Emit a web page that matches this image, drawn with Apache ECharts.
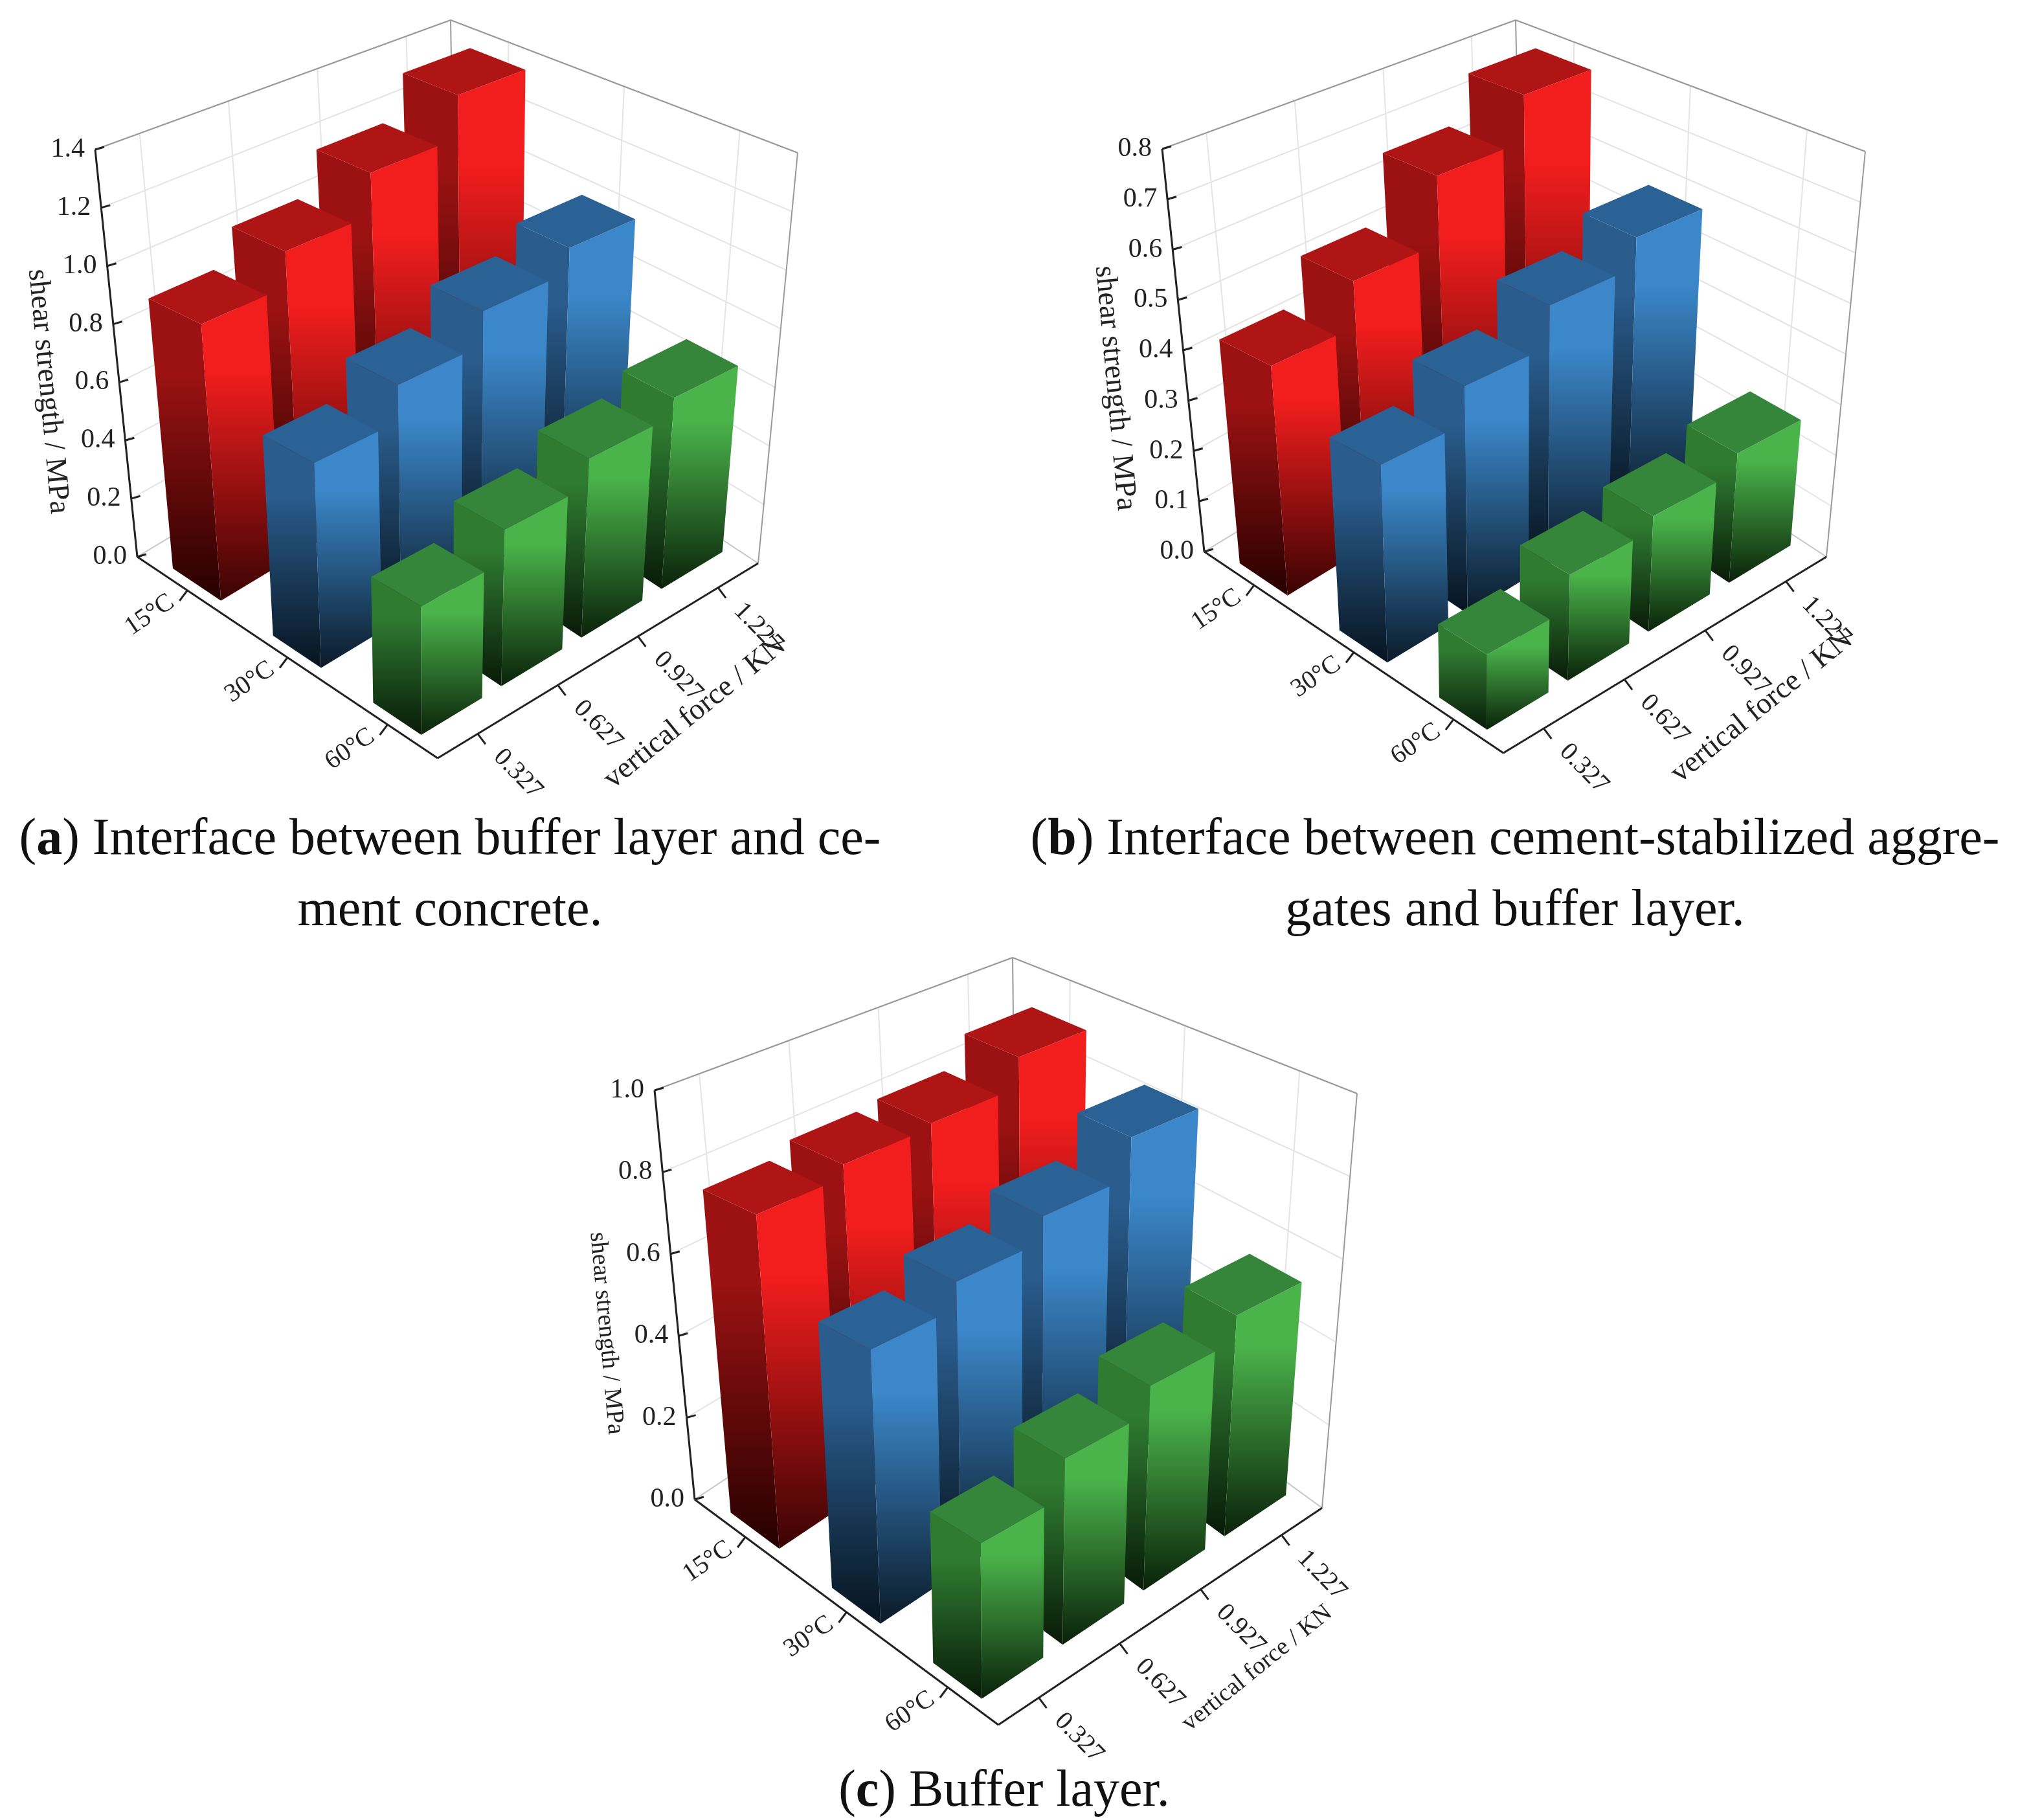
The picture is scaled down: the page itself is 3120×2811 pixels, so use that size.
<!DOCTYPE html>
<html>
<head>
<meta charset="utf-8">
<style>html,body{margin:0;padding:0;background:#fff}#chart{width:3120px;height:2811px}</style>
<script src="https://cdn.jsdelivr.net/npm/echarts@6/dist/echarts.min.js"></script>
</head>
<body>
<div id="chart"></div>
<script>
// categories
const tempLabels = ['15°C', '30°C', '60°C']
const forceLabels = ['0.327', '0.627', '0.927', '1.227']

// shear strength (MPa), rows = temperature, columns = vertical force
const aRed = [0.92, 1.04, 1.19, 1.35]
const aBlue = [0.65, 0.77, 0.885, 0.97]
const aGreen = [0.39, 0.49, 0.58, 0.64]
const bRed = [0.44, 0.53, 0.67, 0.77]
const bBlue = [0.36, 0.43, 0.51, 0.57]
const bGreen = [0.13, 0.19, 0.215, 0.25]
const cRed = [0.78, 0.81, 0.82, 0.90]
const cBlue = [0.60, 0.66, 0.72, 0.82]
const cGreen = [0.32, 0.40, 0.46, 0.52]

// y tick labels
const aTicks = ['0.0', '0.2', '0.4', '0.6', '0.8', '1.0', '1.2', '1.4']
const bTicks = ['0.0', '0.1', '0.2', '0.3', '0.4', '0.5', '0.6', '0.7', '0.8']
const cTicks = ['0.0', '0.2', '0.4', '0.6', '0.8', '1.0']

/** 面板框体角点（底面 L/F/R/B，顶面 L1/F1/R1/B1），三线性插值近似透视 */
const panels = [
  {
    rows: [aRed, aBlue, aGreen], ticks: aTicks, max: 1.4,
    L0: [212, 860], F0: [676, 1171], R0: [1171, 870], B0: [705, 563],
    L1: [147, 231], F1: [680, 446], R1: [1232, 236], B1: [696, 31],
    titleSize: 46, caption: [['a', ') Interface between buffer layer and ce-'], [null, 'ment concrete.']], capX: 695, capY: 1298
  },
  {
    rows: [bRed, bBlue, bGreen], ticks: bTicks, max: 0.8,
    L0: [1860, 852], F0: [2322, 1163], R0: [2821, 860], B0: [2352, 552],
    L1: [1795, 230], F1: [2326, 437], R1: [2881, 234], B1: [2341, 31],
    titleSize: 46, caption: [['b', ') Interface between cement-stabilized aggre-'], [null, 'gates and buffer layer.']], capX: 2340, capY: 1298
  },
  {
    rows: [cRed, cBlue, cGreen], ticks: cTicks, max: 1.0,
    L0: [1073, 2316], F0: [1542, 2664], R0: [2042, 2329], B0: [1570, 1985],
    L1: [1011, 1684], F1: [1540, 1898], R1: [2096, 1689], B1: [1564, 1479],
    titleSize: 38, caption: [['c', ') Buffer layer.']], capX: 1551, capY: 2768
  }
]

const COLORS = [
  { top: '#b01515', left: ['#9c1212', '#260000'], right: ['#f21d1d', '#3a0303'] },
  { top: '#2a6296', left: ['#2a5d8e', '#07141f'], right: ['#3b87c9', '#0b1a28'] },
  { top: '#35853a', left: ['#2f7c31', '#081a08'], right: ['#4ab34a', '#0a220a'] }
]

const A = 0.08 // 温度方向半宽
const B = 0.095 // 荷载方向半宽

function lerp(p, q, k) { return [p[0] + (q[0] - p[0]) * k, p[1] + (q[1] - p[1]) * k] }

function bil(L, F, R, Bk, t, f) {
  const w = [(1 - t) * (1 - f), t * (1 - f), t * f, (1 - t) * f]
  return [
    w[0] * L[0] + w[1] * F[0] + w[2] * R[0] + w[3] * Bk[0],
    w[0] * L[1] + w[1] * F[1] + w[2] * R[1] + w[3] * Bk[1]
  ]
}

function project(p, t, f, s) {
  const lo = bil(p.L0, p.F0, p.R0, p.B0, t, f)
  const hi = bil(p.L1, p.F1, p.R1, p.B1, t, f)
  return lerp(lo, hi, s)
}

function grad(c) {
  return new echarts.graphic.LinearGradient(0, 0, 0, 1, [
    { offset: 0, color: c[0] }, { offset: 0.25, color: c[0] }, { offset: 1, color: c[1] }
  ])
}

function barSeries(p) {
  const data = []
  p.rows.forEach((row, i) => row.forEach((v, j) => data.push([i, j, v])))
  data.sort((a, b) => (a[0] - a[1]) - (b[0] - b[1]) || a[0] - b[0])
  return {
    type: 'custom',
    coordinateSystem: 'none',
    silent: true,
    data,
    renderItem(params, api) {
      const i = api.value(0), j = api.value(1), v = api.value(2)
      const tc = (i + 0.5) / 3, fc = (j + 0.5) / 4
      const t0 = tc - A, t1 = tc + A, f0 = fc - B, f1 = fc + B
      const s = v / p.max
      const P = (t, f, z) => project(p, t, f, z)
      const c = COLORS[i]
      return {
        type: 'group',
        children: [
          { type: 'polygon', shape: { points: [P(t0, f0, s), P(t1, f0, s), P(t1, f0, 0), P(t0, f0, 0)] }, style: { fill: grad(c.left) } },
          { type: 'polygon', shape: { points: [P(t1, f0, s), P(t1, f1, s), P(t1, f1, 0), P(t1, f0, 0)] }, style: { fill: grad(c.right) } },
          { type: 'polygon', shape: { points: [P(t0, f0, s), P(t1, f0, s), P(t1, f1, s), P(t0, f1, s)] }, style: { fill: c.top } }
        ]
      }
    }
  }
}

const FONT = '"Liberation Serif", "DejaVu Serif", serif'

function frameGraphics(p) {
  const g = []
  const line = (a, b, stroke, w) => g.push({ type: 'line', silent: true, shape: { x1: a[0], y1: a[1], x2: b[0], y2: b[1] }, style: { stroke, lineWidth: w } })
  const text = (x, y, str, size, rot, align) => g.push({
    type: 'text', silent: true, x, y, rotation: rot,
    style: { text: str, font: size + 'px ' + FONT, fill: '#222', align: align || 'center', verticalAlign: 'middle' }
  })
  const P = (t, f, s) => project(p, t, f, s)
  const n = p.ticks.length - 1

  // 背板网格
  p.ticks.forEach((_, k) => {
    const s = k / n
    line(P(0, 0, s), P(0, 1, s), '#e4e4e4', 2)
    line(P(0, 1, s), P(1, 1, s), '#e4e4e4', 2)
  })
  forceLabels.forEach((_, j) => line(P(0, (j + 0.5) / 4, 0), P(0, (j + 0.5) / 4, 1), '#e4e4e4', 2))
  tempLabels.forEach((_, i) => line(P((i + 0.5) / 3, 1, 0), P((i + 0.5) / 3, 1, 1), '#e4e4e4', 2))

  // 框线
  line(P(0, 0, 0), P(0, 1, 0), '#c8c8c8', 2)
  line(P(0, 1, 0), P(1, 1, 0), '#c8c8c8', 2)
  line(P(0, 1, 0), P(0, 1, 1), '#999', 2)
  line(P(1, 1, 0), P(1, 1, 1), '#999', 2)
  line(P(0, 0, 1), P(0, 1, 1), '#999', 2)
  line(P(0, 1, 1), P(1, 1, 1), '#999', 2)
  line(P(0, 0, 0), P(0, 0, 1), '#222', 3)
  line(P(0, 0, 0), P(1, 0, 0), '#222', 3)
  line(P(1, 0, 0), P(1, 1, 0), '#222', 3)

  // y 轴刻度
  p.ticks.forEach((lab, k) => {
    const q = P(0, 0, k / n)
    line(q, [q[0] + 14, q[1] - 4], '#222', 3)
    text(q[0] - 16, q[1], lab, 42, 0, 'right')
  })
  const yt = P(0, 0, 0.43)
  text(yt[0] - 110, yt[1] + 15, 'shear strength / MPa', p.titleSize, -1.48)

  // 温度轴
  tempLabels.forEach((lab, i) => {
    const q = P((i + 0.5) / 3, 0, 0)
    line(q, [q[0] - 12, q[1] + 16], '#222', 3)
    text(q[0] - 58, q[1] + 38, lab, 40, 0.6)
  })
  // 荷载轴
  forceLabels.forEach((lab, j) => {
    const q = P(1, (j + 0.5) / 4, 0)
    line(q, [q[0] + 12, q[1] + 16], '#222', 3)
    text(q[0] + 62, q[1] + 62, lab, 40, -0.8)
  })
  const ft = P(1, 0.5, 0)
  text(ft[0] + 150, ft[1] + 80, 'vertical force / KN', p.titleSize, 0.68)

  // 图注
  p.caption.forEach((ln, k) => {
    const str = ln[0] ? '(' + '{b|' + ln[0] + '}' + ln[1] : ln[1]
    g.push({
      type: 'text', silent: true, x: p.capX, y: p.capY + k * 110,
      style: {
        text: str, font: '80px ' + FONT, fill: '#111', align: 'center', verticalAlign: 'middle',
        rich: { b: { font: 'bold 80px ' + FONT, fill: '#111' } }
      }
    })
  })
  return g
}

const chart = echarts.init(document.getElementById('chart'))
chart.setOption({
  backgroundColor: '#fff',
  animation: false,
  graphic: { elements: panels.flatMap(frameGraphics) },
  series: panels.map(barSeries)
})
</script>
</body>
</html>
